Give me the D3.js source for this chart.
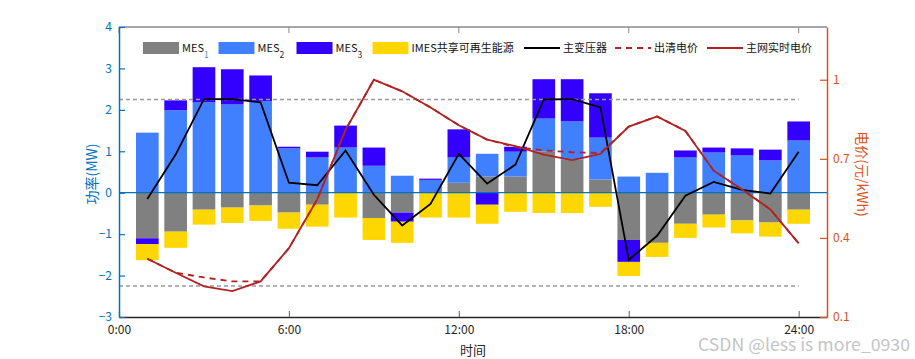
<!DOCTYPE html>
<html>
<head>
<meta charset="utf-8">
<script src="https://cdn.jsdelivr.net/npm/d3@7"></script>
<style>
  html, body { margin: 0; padding: 0; background: #fff; }
  svg { display: block; }
  text { font-family: "Noto Sans CJK SC", "Noto Sans", sans-serif; }
</style>
</head>
<body>
<svg id="chart" width="915" height="359"></svg>
<script>
// ---------------- data ----------------
const hours = d3.range(1, 25);
const mes1 = [-1.10, -0.94, -0.41, -0.36, -0.31, -0.48, -0.29, 0, -0.61, -0.48, 0, 0.24, 0.39, 0.39, 1.00, 0.80, 0.32, -1.14, -1.21, -0.75, -0.53, -0.67, -0.72, -0.41];
const mes2 = [1.45, 1.99, 2.18, 2.13, 2.21, 1.07, 0.85, 1.09, 0.65, 0.41, 0.31, 0.61, 0.55, 0.60, 0.79, 0.92, 1.01, 0.39, 0.48, 0.85, 0.97, 0.90, 0.78, 1.26];
const mes3 = [-0.14, 0.24, 0.85, 0.85, 0.62, 0.04, 0.14, 0.53, 0.44, -0.22, 0.03, 0.68, -0.29, 0.12, 0.95, 1.02, 1.07, -0.53, 0, 0.17, 0.12, 0.17, 0.26, 0.46];
const imes = [-0.39, -0.39, -0.36, -0.37, -0.37, -0.39, -0.53, -0.60, -0.53, -0.51, -0.60, -0.60, -0.46, -0.46, -0.49, -0.49, -0.34, -0.34, -0.34, -0.34, -0.31, -0.31, -0.34, -0.34];
const transformer = [-0.15, 0.92, 2.26, 2.26, 2.18, 0.24, 0.18, 1.02, -0.05, -0.79, -0.27, 0.94, 0.22, 0.68, 2.25, 2.26, 2.06, -1.62, -1.04, -0.07, 0.26, 0.07, -0.02, 0.99];
const clearingPrice = [0.321, 0.268, 0.25, 0.235, 0.235, 0.361, 0.546, 0.81, 1.00, 0.956, 0.895, 0.827, 0.773, 0.745, 0.732, 0.725, 0.722, 0.822, 0.861, 0.806, 0.655, 0.584, 0.508, 0.379];
const gridPrice = [0.321, 0.268, 0.216, 0.198, 0.235, 0.361, 0.546, 0.81, 1.00, 0.956, 0.895, 0.827, 0.773, 0.748, 0.716, 0.695, 0.719, 0.822, 0.861, 0.806, 0.655, 0.584, 0.508, 0.379];
const limitLines = [2.25, -2.25];
const xTicks = [0, 6, 12, 18, 24];
const yLeftTicks = [-3, -2, -1, 0, 1, 2, 3, 4];
const yRightTicks = [0.1, 0.4, 0.7, 1];
const seriesKeys = ["MES1", "MES2", "MES3", "IMES"];
const seriesColors = { MES1: "#808080", MES2: "#4080FF", MES3: "#3300FF", IMES: "#FFD700" };

// ---------------- layout ----------------
const svg = d3.select("#chart");
const L = 119, R = 827, T = 27, B = 317;
const leftColor = "#0072BD", rightColor = "#D95319";

const x = d3.scaleLinear().domain([0, 25]).range([L, R]);
const yL = d3.scaleLinear().domain([-3, 4]).range([B, T]);
const yR = d3.scaleLinear().domain([0.1, 1.2]).range([B, T]);

const table = hours.map((h, i) => ({ hour: h, MES1: mes1[i], MES2: mes2[i], MES3: mes3[i], IMES: imes[i] }));
const stacked = d3.stack().keys(seriesKeys).offset(d3.stackOffsetDiverging)(table);

const barW = x(0.8) - x(0);

// bars
svg.append("g").selectAll("g").data(stacked).join("g")
  .attr("fill", d => seriesColors[d.key])
  .selectAll("rect").data(d => d).join("rect")
  .attr("x", d => x(d.data.hour) - barW / 2)
  .attr("width", barW)
  .attr("y", d => yL(Math.max(d[0], d[1])))
  .attr("height", d => Math.abs(yL(d[0]) - yL(d[1])));

// zero line
svg.append("line").attr("x1", L).attr("x2", R).attr("y1", yL(0)).attr("y2", yL(0))
  .attr("stroke", leftColor).attr("stroke-width", 1.2);

// limit lines
svg.append("g").selectAll("line").data(limitLines).join("line")
  .attr("x1", x(0)).attr("x2", x(24))
  .attr("y1", d => yL(d)).attr("y2", d => yL(d))
  .attr("stroke", "#999").attr("stroke-width", 1.5).attr("stroke-dasharray", "4,3");

// transformer line
const lineL = d3.line().x((d, i) => x(hours[i])).y(d => yL(d));
svg.append("path").datum(transformer).attr("d", lineL)
  .attr("fill", "none").attr("stroke", "#000").attr("stroke-width", 1.8);

// price lines
const lineR = d3.line().x((d, i) => x(hours[i])).y(d => yR(d));
svg.append("path").datum(gridPrice).attr("d", lineR)
  .attr("fill", "none").attr("stroke", "#B22222").attr("stroke-width", 1.8);
svg.append("path").datum(clearingPrice).attr("d", lineR)
  .attr("fill", "none").attr("stroke", "#B22222").attr("stroke-width", 1.8)
  .attr("stroke-dasharray", "6,5");

// ---------------- axes ----------------
// top border with ticks
svg.append("line").attr("x1", L).attr("x2", R).attr("y1", T).attr("y2", T)
  .attr("stroke", "#8a8a8a").attr("stroke-width", 1.5);
svg.append("g").selectAll("line").data(xTicks).join("line")
  .attr("x1", d => x(d)).attr("x2", d => x(d)).attr("y1", T).attr("y2", T + 6)
  .attr("stroke", "#8a8a8a").attr("stroke-width", 1);

// bottom axis
const gx = svg.append("g").attr("transform", `translate(0,${B})`)
  .call(d3.axisBottom(x).tickValues(xTicks).tickFormat(d => d + ":00")
    .tickSizeInner(-6).tickSizeOuter(0).tickPadding(8));
gx.select(".domain").attr("stroke", "#262626").attr("stroke-width", 1.5);
gx.selectAll(".tick line").attr("stroke", "#777").attr("stroke-width", 1.2);
gx.selectAll("text").attr("font-size", 12).attr("fill", "#262626")
  .attr("font-family", '"Noto Sans CJK SC", sans-serif');

// left axis
const gl = svg.append("g").attr("transform", `translate(${L},0)`)
  .call(d3.axisLeft(yL).tickValues(yLeftTicks).tickFormat(d3.format("d"))
    .tickSizeInner(-6).tickSizeOuter(0).tickPadding(7));
gl.select(".domain").attr("stroke", leftColor).attr("stroke-width", 1.5);
gl.selectAll(".tick line").attr("stroke", leftColor).attr("stroke-width", 1.2);
gl.selectAll("text").attr("font-size", 12).attr("fill", leftColor)
  .attr("font-family", '"Noto Sans CJK SC", sans-serif');

// right axis
const gr = svg.append("g").attr("transform", `translate(${R},0)`)
  .call(d3.axisRight(yR).tickValues(yRightTicks).tickFormat(d => d === 1 ? "1" : d3.format(".1f")(d))
    .tickSizeInner(-7).tickSizeOuter(0).tickPadding(6));
gr.select(".domain").attr("stroke", rightColor).attr("stroke-width", 1.5);
gr.selectAll(".tick line").attr("stroke", rightColor).attr("stroke-width", 1.2);
gr.selectAll("text").attr("font-size", 12).attr("fill", rightColor)
  .attr("font-family", '"Noto Sans CJK SC", sans-serif');

// axis titles
svg.append("text").attr("transform", `translate(97,${(T + B) / 2 + 2}) rotate(-90)`)
  .attr("text-anchor", "middle").attr("font-size", 14).attr("fill", leftColor).text("功率(MW)");
svg.append("text").attr("transform", `translate(857,${(T + B) / 2 + 2}) rotate(90)`)
  .attr("text-anchor", "middle").attr("font-size", 14).attr("fill", rightColor).text("电价(元/kWh)");
svg.append("text").attr("x", 473).attr("y", 355)
  .attr("text-anchor", "middle").attr("font-size", 13).attr("fill", "#262626").text("时间");

// ---------------- legend ----------------
const legendY = 48;
const lg = svg.append("g");
const rectItems = [
  { key: "MES1", x: 143, label: "MES", sub: "1", subColor: "#4a90d9" },
  { key: "MES2", x: 218.5, label: "MES", sub: "2", subColor: "#262626" },
  { key: "MES3", x: 296.5, label: "MES", sub: "3", subColor: "#262626" },
  { key: "IMES", x: 372.5, label: "IMES共享可再生能源", sub: null }
];
rectItems.forEach(it => {
  lg.append("rect").attr("x", it.x).attr("y", legendY - 6).attr("width", 36).attr("height", 12)
    .attr("fill", seriesColors[it.key]);
  const t = lg.append("text").attr("x", it.x + 39).attr("y", legendY + 3.5)
    .attr("font-size", 11).attr("fill", "#111");
  t.append("tspan").text(it.label);
  if (it.sub) t.append("tspan").attr("dy", 6).attr("font-size", 8.5).attr("fill", it.subColor).text(it.sub);
});
const lineItems = [
  { x: 524, label: "主变压器", color: "#000", dash: null },
  { x: 615, label: "出清电价", color: "#B22222", dash: "6,5" },
  { x: 707, label: "主网实时电价", color: "#B22222", dash: null }
];
lineItems.forEach(it => {
  const l = lg.append("line").attr("x1", it.x).attr("x2", it.x + 36).attr("y1", legendY).attr("y2", legendY)
    .attr("stroke", it.color).attr("stroke-width", 1.8);
  if (it.dash) l.attr("stroke-dasharray", it.dash);
  lg.append("text").attr("x", it.x + 39).attr("y", legendY + 4)
    .attr("font-size", 11).attr("fill", "#111").text(it.label);
});

// watermark
svg.append("text").attr("x", 698).attr("y", 351).attr("font-size", 17)
  .attr("font-family", '"Liberation Sans", Arial, sans-serif')
  .attr("fill", "#c4c4c4").attr("textLength", 212).attr("lengthAdjust", "spacingAndGlyphs")
  .text("CSDN @less is more_0930");
</script>
</body>
</html>
